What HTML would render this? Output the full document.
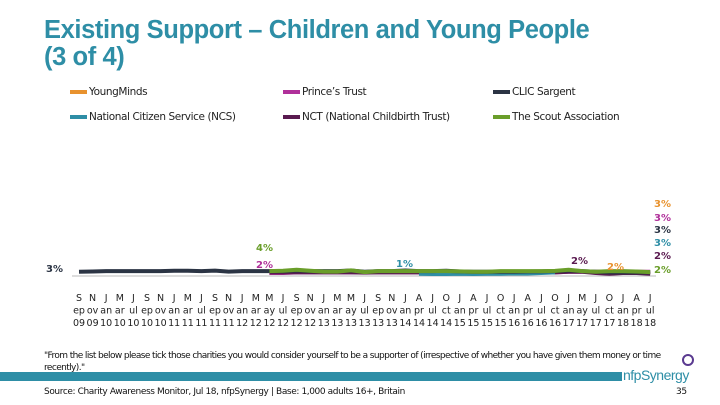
<!DOCTYPE html>
<html><head><meta charset="utf-8"><style>
body{margin:0;width:720px;height:405px;overflow:hidden;background:#fff;font-family:"DejaVu Sans","Liberation Sans",sans-serif;position:relative}
.t{position:absolute;color:#2e8ea6;font-family:"Liberation Sans",sans-serif;font-weight:bold;font-size:25.5px;line-height:27px;left:44px;top:17px;letter-spacing:-0.4px}
.lg{position:absolute;font-size:10.5px;color:#222;display:flex;align-items:center;letter-spacing:-0.4px}
.lg i{display:inline-block;width:17px;height:4px;margin-right:2px}
.sm{position:absolute;font-size:9px;color:#111;letter-spacing:-0.4px}
</style></head><body>
<div class="t">Existing Support – Children and Young People<br>(3 of 4)</div>
<div class="lg" style="left:70px;top:86px"><i style="background:#e8922e"></i>YoungMinds</div>
<div class="lg" style="left:283px;top:86px"><i style="background:#b0309a"></i>Prince’s Trust</div>
<div class="lg" style="left:493px;top:86px"><i style="background:#2b3444"></i>CLIC Sargent</div>
<div class="lg" style="left:70px;top:111px"><i style="background:#2e8ea6"></i>National Citizen Service (NCS)</div>
<div class="lg" style="left:283px;top:111px"><i style="background:#5a1a50"></i>NCT (National Childbirth Trust)</div>
<div class="lg" style="left:493px;top:111px"><i style="background:#6a9e2a"></i>The Scout Association</div>
<svg id="c" width="720" height="405" style="position:absolute;left:0;top:0"></svg>
<div class="sm" style="left:44px;top:350px;width:622px;line-height:12px;letter-spacing:-0.6px">"From the list below please tick those charities you would consider yourself to be a supporter of (irrespective of whether you have given them money or time recently)."</div>
<div style="position:absolute;left:0;top:372px;width:622px;height:9px;background:#2e8ea6"></div>
<div style="position:absolute;left:623px;top:367px;font-size:14px;color:#2e8ea6;font-family:'Liberation Sans',sans-serif;letter-spacing:-0.5px">nfpSynergy</div>
<div style="position:absolute;left:682px;top:354px;width:8px;height:8px;border:2px solid #5a3a90;border-radius:50%"></div>
<div class="sm" style="left:44px;top:387px">Source: Charity Awareness Monitor, Jul 18, nfpSynergy | Base: 1,000 adults 16+, Britain</div>
<div class="sm" style="left:676px;top:387px">35</div>
<script>
const months=["Sep","Nov","Jan","Mar","Jul","Sep","Nov","Jan","Mar","Jul","Sep","Nov","Jan","Mar","May","Jul","Sep","Nov","Jan","Mar","May","Jul","Sep","Nov","Jan","Apr","Jul","Oct","Jan","Apr","Jul","Oct","Jan","Apr","Jul","Oct","Jan","May","Jul","Oct","Jan","Apr","Jul"];
const years=["09","09","10","10","10","10","10","11","11","11","11","11","12","12","12","12","12","12","13","13","13","13","13","13","14","14","14","14","15","15","15","15","16","16","16","16","17","17","17","17","18","18","18"];
const N=null;
const clic=[2.5,2.7,3,3,3,3,3,3.3,3.3,3,3.4,2.6,3,3,3,3,3.5,3,3,3,3.5,2.5,3,3,3.5,3,3,3.3,2.7,2.5,2.5,2.5,2.5,2.7,2.8,3,3.5,3,2.5,2,2,2,2];
const scout=[N,N,N,N,N,N,N,N,N,N,N,N,N,N,3,3.3,4,3.3,2.6,2.6,3.6,2.2,3,3,3,3,3,3,2.8,2.5,2.5,3,3,3,3,3.2,4,3,2.5,3,3,2.7,2.2];
const princes=[N,N,N,N,N,N,N,N,N,N,N,N,N,N,1.5,1.5,2,2,2,2,2,2,2,2,2,2,2,2,2,2,2,2,2,2,2,2,2.5,2.5,2.5,2.5,2.5,2.5,2.5];
const nct=[N,N,N,N,N,N,N,N,N,N,N,N,N,N,2,2,2,2,2,2,2,1.8,2,2,2,2,2,2,2,2,2,2,2,2,2,2,2.5,2.5,1.5,1,1.5,1.5,1];
const ncs=[N,N,N,N,N,N,N,N,N,N,N,N,N,N,N,N,N,N,N,N,N,N,N,N,N,1,0.8,0.8,1,0.8,1,1,1.2,1.2,1.5,2,N,N,N,N,N,N,N];
const svg=document.getElementById('c');const NS='http://www.w3.org/2000/svg';
const x=i=>79+i*13.6, y=v=>275-v*1.3;
function mk(t,a){const e=document.createElementNS(NS,t);for(const k in a)e.setAttribute(k,a[k]);svg.appendChild(e);return e;}
const ax=mk('line',{x1:72,x2:656,y1:276,y2:276,stroke:'#bbb','stroke-width':1});


months.forEach((m,i)=>{[m[0],m.slice(1,3),years[i]].forEach((s,r)=>{const t=mk('text',{x:x(i),y:301+r*12.5,'text-anchor':'middle','font-size':9.5,fill:'#222','font-family':'DejaVu Sans,sans-serif'});t.textContent=s;

});});
function line(arr,col,name){let d='';arr.forEach((v,i)=>{if(v===N)return;d+=(d&&arr[i-1]!==N?'L':'M')+x(i)+' '+y(v)+' ';});const p=mk('path',{d:d,fill:'none',stroke:col,'stroke-width':4,'stroke-linejoin':'round'});

}
line(princes,'#b0309a','line-princes-trust');line(nct,'#5a1a50','line-nct');line(ncs,'#2e8ea6','line-ncs');line(clic,'#2b3444','line-clic-sargent');line(scout,'#6a9e2a','line-scout');
const labs=[[46,272,'3%','#2b3444'],[256,251,'4%','#6a9e2a'],[256,268,'2%','#b0309a'],[396,267,'1%','#2e8ea6'],[571,264,'2%','#5a1a50'],[607,270,'2%','#e8922e'],[654,207,'3%','#e8922e'],[654,221,'3%','#b0309a'],[654,233,'3%','#2b3444'],[654,246,'3%','#2e8ea6'],[654,259,'2%','#5a1a50'],[654,273,'2%','#6a9e2a']];
labs.forEach(l=>{const t=mk('text',{x:l[0],y:l[1],'font-size':10,'font-weight':'bold',fill:l[3]});t.textContent=l[2];

});
</script>
</body></html>
